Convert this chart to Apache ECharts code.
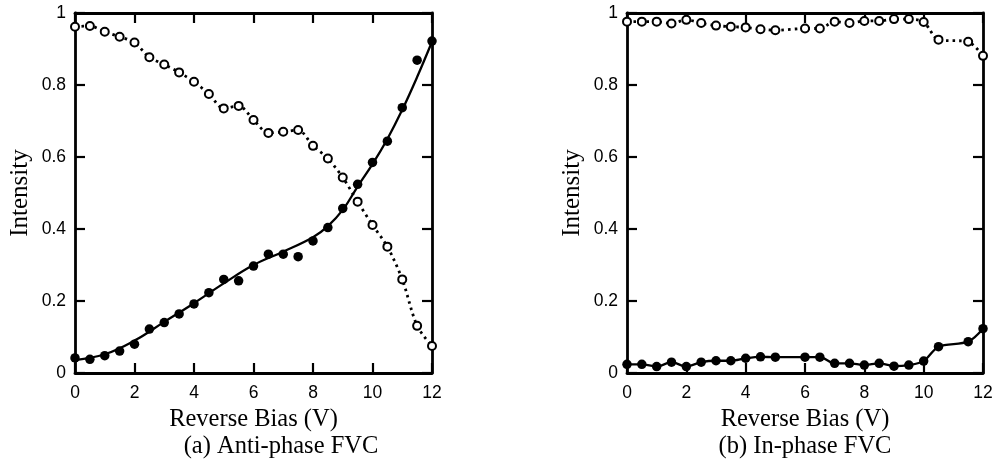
<!DOCTYPE html>
<html>
<head>
<meta charset="utf-8">
<script src="https://cdn.jsdelivr.net/npm/echarts@6/dist/echarts.min.js"></script>
<style>html,body{margin:0;padding:0;background:#fff}#c{width:996px;height:467px}</style>
</head>
<body>
<div id="c"></div>
<script>
// ---- Data ----
var xTicks = [0, 2, 4, 6, 8, 10, 12];
var yTicks = [0, 0.2, 0.4, 0.6, 0.8, 1];

// (a) Anti-phase FVC
var aX = [0,0.5,1,1.5,2,2.5,3,3.5,4,4.5,5,5.5,6,6.5,7,7.5,8,8.5,9,9.5,10,10.5,11,11.5,12];
var aFilled = [0.042,0.038,0.048,0.061,0.080,0.122,0.140,0.164,0.192,0.223,0.260,0.256,0.297,0.330,0.330,0.323,0.367,0.404,0.457,0.524,0.585,0.644,0.737,0.869,0.922];
var aOpen = [0.962,0.964,0.948,0.934,0.918,0.877,0.857,0.835,0.809,0.775,0.735,0.742,0.703,0.667,0.670,0.675,0.631,0.596,0.543,0.476,0.411,0.351,0.260,0.131,0.075];
// fitted (solid) curve of panel (a)
var aFitX = [0,1,2,3,4,5,6,7,8,8.5,9,9.5,10,10.5,11,11.5,12];
var aFit = [0.036,0.052,0.090,0.142,0.194,0.249,0.300,0.337,0.377,0.408,0.453,0.518,0.580,0.650,0.731,0.822,0.920];

// (b) In-phase FVC
var bX = [0,0.5,1,1.5,2,2.5,3,3.5,4,4.5,5,6,6.5,7,7.5,8,8.5,9,9.5,10,10.5,11.5,12];
var bFilled = [0.024,0.024,0.018,0.030,0.018,0.030,0.034,0.034,0.041,0.045,0.044,0.044,0.044,0.027,0.027,0.022,0.027,0.019,0.022,0.033,0.073,0.087,0.123];
var bOpen = [0.976,0.976,0.976,0.971,0.981,0.972,0.965,0.962,0.960,0.955,0.952,0.957,0.957,0.976,0.972,0.978,0.978,0.983,0.983,0.975,0.926,0.920,0.881];

function zip(xs, ys) { return xs.map(function (x, i) { return [x, ys[i]]; }); }

var SANS = 'Liberation Sans, Arial, sans-serif';
var SERIF = 'Liberation Serif, Times New Roman, serif';

var grids = [
  { left: 75, top: 13, width: 357, height: 360 },
  { left: 627, top: 13, width: 356, height: 360 }
];

function xAxes(gi) {
  var base = {
    type: 'value', gridIndex: gi, min: 0, max: 12, interval: 2,
    axisLine: { show: true, onZero: false, lineStyle: { color: '#000', width: 2.8 } },
    axisTick: { show: true, inside: true, length: 10, lineStyle: { color: '#000', width: 2.2 } },
    splitLine: { show: false }
  };
  return [
    Object.assign({}, base, {
      position: 'bottom',
      axisLabel: { show: true, margin: 11, color: '#000', fontFamily: SANS, fontSize: 17.5,
        formatter: function (v) { return xTicks.indexOf(v) >= 0 ? String(v) : ''; } },
      name: 'Reverse Bias (V)', nameLocation: 'middle', nameGap: 33,
      nameTextStyle: { color: '#000', fontFamily: SERIF, fontSize: 24.5 }
    }),
    Object.assign({}, base, { position: 'top', axisLabel: { show: false } })
  ];
}
function yAxes(gi) {
  var base = {
    type: 'value', gridIndex: gi, min: 0, max: 1, interval: 0.2,
    axisLine: { show: true, onZero: false, lineStyle: { color: '#000', width: 2.8 } },
    axisTick: { show: true, inside: true, length: 10, lineStyle: { color: '#000', width: 2.2 } },
    splitLine: { show: false }
  };
  return [
    Object.assign({}, base, {
      position: 'left',
      axisLabel: { show: true, margin: 9, color: '#000', fontFamily: SANS, fontSize: 17.5,
        formatter: function (v) { return String(Math.round(v * 10) / 10); } },
      name: 'Intensity', nameLocation: 'middle', nameGap: 42,
      nameTextStyle: { color: '#000', fontFamily: SERIF, fontSize: 25 }
    }),
    Object.assign({}, base, { position: 'right', axisLabel: { show: false } })
  ];
}

var xAxis = xAxes(0).concat(xAxes(1));
var yAxis = yAxes(0).concat(yAxes(1));

var filledSym = { symbol: 'circle', symbolSize: 9.5, itemStyle: { color: '#000', opacity: 1 } };
var openSym = { symbol: 'emptyCircle', symbolSize: 8, itemStyle: { color: '#000', borderColor: '#000', borderWidth: 2.6, opacity: 1 } };

var series = [
  // panel (a)
  { type: 'line', xAxisIndex: 0, yAxisIndex: 0, data: zip(aFitX, aFit), smooth: 0.4,
    showSymbol: false, lineStyle: { color: '#000', width: 2.3 }, z: 2, silent: true },
  Object.assign({ type: 'scatter', xAxisIndex: 0, yAxisIndex: 0, data: zip(aX, aFilled), z: 4 }, filledSym),
  Object.assign({ type: 'line', xAxisIndex: 0, yAxisIndex: 0, data: zip(aX, aOpen), smooth: 0.3,
    lineStyle: { color: '#000', width: 2.8, type: [2.5, 4] }, z: 3 }, openSym),
  // panel (b)
  Object.assign({ type: 'line', xAxisIndex: 2, yAxisIndex: 2, data: zip(bX, bFilled), smooth: 0.3,
    lineStyle: { color: '#000', width: 2.3 }, z: 3 }, filledSym),
  Object.assign({ type: 'line', xAxisIndex: 2, yAxisIndex: 2, data: zip(bX, bOpen), smooth: 0.3,
    lineStyle: { color: '#000', width: 2.8, type: [2.5, 4] }, z: 3 }, openSym)
];

var chart = echarts.init(document.getElementById('c'), null, { renderer: 'canvas' });
chart.setOption({
  animation: false,
  backgroundColor: '#fff',
  grid: grids,
  xAxis: xAxis,
  yAxis: yAxis,
  series: series,
  graphic: [
    { type: 'text', x: 281, y: 447, style: { text: '(a) Anti-phase FVC', fill: '#000', font: '24.5px ' + SERIF, textAlign: 'center', textVerticalAlign: 'middle' } },
    { type: 'text', x: 805, y: 447, style: { text: '(b) In-phase FVC', fill: '#000', font: '24.5px ' + SERIF, textAlign: 'center', textVerticalAlign: 'middle' } }
  ]
});
</script>
</body>
</html>
